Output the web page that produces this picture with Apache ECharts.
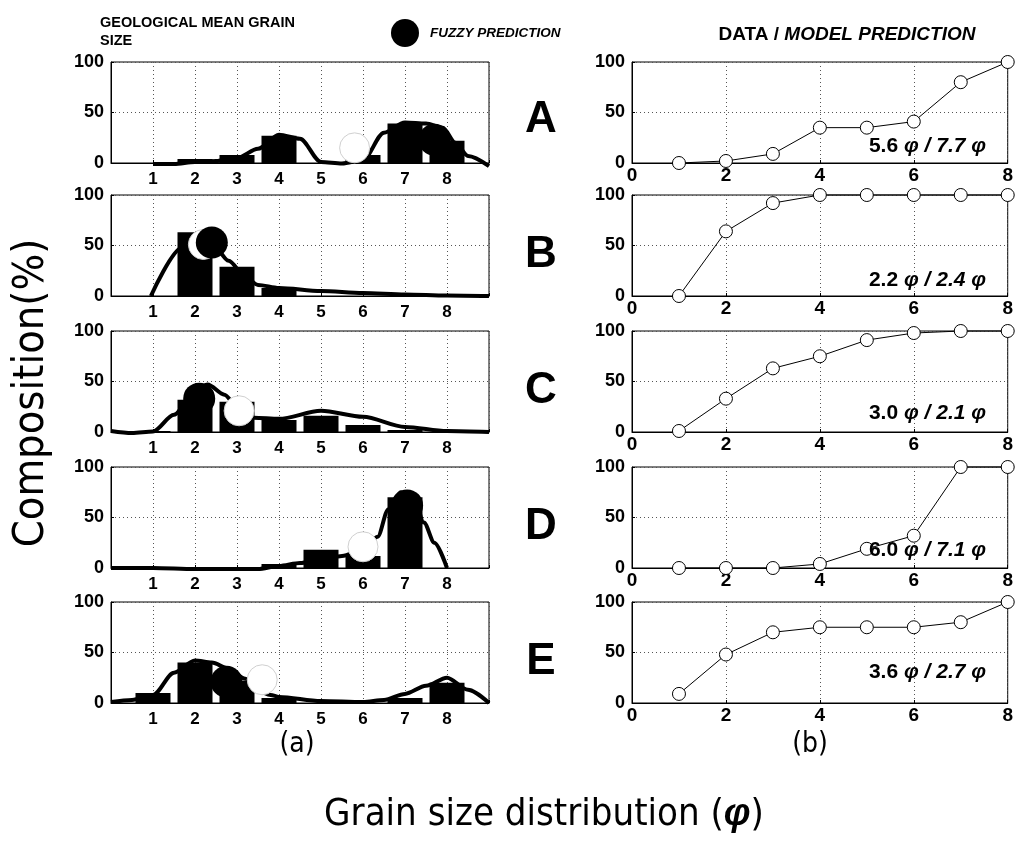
<!DOCTYPE html>
<html>
<head>
<meta charset="utf-8">
<script src="https://cdn.jsdelivr.net/npm/echarts@6/dist/echarts.min.js"></script>
<style>
html,body{margin:0;padding:0;background:#fff;}
#chart{width:1016px;height:841px;}
</style>
</head>
<body>
<div id="chart"></div>
<script>
// ---------------- DATA ----------------
const panelNames = ['A', 'B', 'C', 'D', 'E'];
const grainClasses = [1, 2, 3, 4, 5, 6, 7, 8];
const leftTickLabels = ['1', '2', '3', '4', '5', '6', '7', '8'];
const rightTickLabels = ['0', '2', '4', '6', '8'];

// (a) grain-size frequency bars (%)
const barsA = [0, 4, 8, 27, 0, 8, 39, 22];
const barsB = [0, 63, 29, 8, 0, 0, 0, 0];
const barsC = [1, 32, 30, 12, 16, 7, 2, 0];
const barsD = [0, 0, 0, 4, 18, 12, 70, 0];
const barsE = [10, 40, 22, 5, 0, 0, 5, 20];

// (a) smoothed distribution curves [phi, %]
const curveA = [[1,-1],[1.5,-1],[2,1],[2.5,2],[3,5],[3.5,14],[4,28],[4.5,24],[5,1],[5.5,-0.5],[6,3],[6.5,30],[7,40],[7.5,39],[7.9,35],[8.2,20],[8.5,7],[9,-3]];
const curveB = [[0.95,0],[1.7,48],[2,60],[2.4,53],[2.8,35],[3.2,19],[3.5,11],[4,8],[5,5],[6,3],[7,1.5],[8,0.5],[9,0]];
const curveC = [[0,1],[0.5,-1],[1,0.5],[1.5,17],[2,42],[2.3,47],[2.7,37],[3,25],[3.4,14],[4,13],[5,21],[6,15],[7,5],[8,1],[9,0]];
const curveD = [[0,0],[1,0],[2,-1],[3,-1],[3.5,-1],[4,2],[4.5,5],[5,8],[5.5,12],[6,18],[6.35,31],[6.6,58],[6.9,75],[7.2,72],[7.45,45],[7.7,25],[8,0]];
const curveE = [[0,1],[0.5,3],[1,8],[1.5,30],[2,42],[2.4,40],[2.8,34],[3.2,24],[3.5,12],[3.8,8],[4,6],[5,2],[6,1],[6.5,3],[7,9],[7.5,17],[8,25],[8.5,13],[9,0]];

// geological mean grain size (white) and fuzzy prediction (black) markers [phi, %]
const geoMean = [[5.8, 15], [2.2, 51], [3.05, 21], [6.0, 21], [3.6, 23]];
const fuzzyPred = [[7.7, 23], [2.4, 53], [2.1, 33], [7.05, 62], [2.75, 21]];

// (b) cumulative composition (%)
const cumA = [0, 2, 9, 35, 35, 41, 80, 100];
const cumB = [0, 64, 92, 100, 100, 100, 100, 100];
const cumC = [1, 33, 63, 75, 91, 98, 100, 100];
const cumD = [0, 0, 0, 4, 19, 32, 100, 100];
const cumE = [9, 48, 70, 75, 75, 75, 80, 100];

// annotation values: data / model prediction (phi)
const dataMean = ['5.6', '2.2', '3.0', '6.0', '3.6'];
const modelMean = ['7.7', '2.4', '2.1', '7.1', '2.7'];

// ---------------- BUILD ----------------
const bars = [barsA, barsB, barsC, barsD, barsE];
const curves = [curveA, curveB, curveC, curveD, curveE];
const cums = [cumA, cumB, cumC, cumD, cumE];

const tops = [62, 195, 331, 467, 602];
const annY = [146, 280, 413, 550, 672];
const letterY = [120, 255, 391, 527, 662];
const PH = 101;
const FF = '"Liberation Sans", Arial, sans-serif';
const TF = '"DejaVu Sans Condensed", "Open Sans", sans-serif';

const grids = [], xAxes = [], yAxes = [], series = [], graphics = [];
const dotted = {show: true, lineStyle: {color: '#555', type: [1, 3], width: 1}};

function yAx(gi) {
  return {
    gridIndex: gi, type: 'value', min: 0, max: 100, interval: 50,
    axisLine: {show: true, lineStyle: {color: '#000', width: 1}},
    axisTick: {show: true, inside: true, length: 3, lineStyle: {color: '#000'}},
    axisLabel: {color: '#000', fontFamily: FF, fontWeight: 'bold', fontSize: 18, margin: 7},
    splitLine: dotted
  };
}

for (let i = 0; i < 5; i++) {
  const gl = grids.length;
  grids.push({left: 111, top: tops[i], width: 378, height: PH, show: true, borderColor: '#000', borderWidth: 1});
  xAxes.push({
    gridIndex: gl, type: 'value', min: 0, max: 9, interval: 1,
    axisLine: {show: true, onZero: false, lineStyle: {color: '#000', width: 1}},
    axisTick: {show: true, inside: true, length: 3, lineStyle: {color: '#000'}},
    axisLabel: {color: '#000', fontFamily: FF, fontWeight: 'bold', fontSize: 17, margin: 8,
      formatter: v => (v >= 1 && v <= 8) ? leftTickLabels[v - 1] : ''},
    splitLine: dotted
  });
  yAxes.push(yAx(gl));
  series.push({
    type: 'bar', xAxisIndex: gl, yAxisIndex: gl, barWidth: 35, silent: true, z: 2,
    itemStyle: {color: '#000'},
    data: grainClasses.map((c, k) => [c, bars[i][k]])
  });
  series.push({
    type: 'line', xAxisIndex: gl, yAxisIndex: gl, smooth: 0.3, smoothMonotone: 'x',
    symbol: 'none', clip: false, silent: true, z: 3,
    lineStyle: {color: '#000', width: 4},
    data: curves[i]
  });
  series.push({
    type: 'scatter', name: 'GEOLOGICAL MEAN GRAIN SIZE', xAxisIndex: gl, yAxisIndex: gl,
    symbol: 'circle', symbolSize: 30, z: 4, silent: true,
    itemStyle: {color: '#fff', borderColor: '#d0d0d0', borderWidth: 1, opacity: 1},
    data: [geoMean[i]]
  });
  series.push({
    type: 'scatter', name: 'FUZZY PREDICTION', xAxisIndex: gl, yAxisIndex: gl,
    symbol: 'circle', symbolSize: 32, z: 5, silent: true,
    itemStyle: {color: '#000', opacity: 1},
    data: [fuzzyPred[i]]
  });

  const gr = grids.length;
  grids.push({left: 632, top: tops[i], width: 378, height: PH, show: true, borderColor: '#000', borderWidth: 1});
  xAxes.push({
    gridIndex: gr, type: 'value', min: 0, max: 8, interval: 2,
    axisLine: {show: true, onZero: false, lineStyle: {color: '#000', width: 1}},
    axisTick: {show: true, inside: true, length: 3, lineStyle: {color: '#000'}},
    axisLabel: {color: '#000', fontFamily: FF, fontWeight: 'bold', fontSize: 19, margin: 3,
      formatter: v => rightTickLabels[v / 2]},
    splitLine: dotted
  });
  yAxes.push(yAx(gr));
  series.push({
    type: 'line', xAxisIndex: gr, yAxisIndex: gr, clip: false, silent: true, z: 3,
    symbol: 'circle', symbolSize: 13,
    lineStyle: {color: '#000', width: 1},
    itemStyle: {color: '#fff', borderColor: '#000', borderWidth: 1},
    data: grainClasses.map((c, k) => [c, cums[i][k]])
  });

  graphics.push({type: 'text', x: 541, y: letterY[i], z: 10,
    style: {text: panelNames[i], font: 'bold 44px ' + FF, fill: '#000', align: 'center', verticalAlign: 'middle'}});
  graphics.push({type: 'text', x: 986, y: annY[i], z: 10,
    style: {text: dataMean[i] + ' {i|\u03C6 / ' + modelMean[i] + ' \u03C6}', font: 'bold 21px ' + FF, fill: '#000',
      align: 'right', verticalAlign: 'middle',
      rich: {i: {fontStyle: 'italic', fontWeight: 'bold', fontSize: 21, fontFamily: FF, fill: '#000'}}}});
}

graphics.push({type: 'text', x: 847, y: 35, z: 10,
  style: {text: 'DATA / {i|MODEL PREDICTION}', font: 'bold 19px ' + FF, fill: '#000', align: 'center', verticalAlign: 'middle',
    rich: {i: {fontStyle: 'italic', fontWeight: 'bold', fontSize: 19, fontFamily: FF, fill: '#000'}}}});
graphics.push({type: 'text', x: 32, y: 393, rotation: Math.PI / 2, z: 10,
  style: {text: 'Composition(%)', font: '43px ' + TF, fill: '#000', align: 'center', verticalAlign: 'middle'}});
graphics.push({type: 'text', x: 297, y: 745, z: 10,
  style: {text: '(a)', font: '28px ' + TF, fill: '#000', align: 'center', verticalAlign: 'middle'}});
graphics.push({type: 'text', x: 810, y: 745, z: 10,
  style: {text: '(b)', font: '28px ' + TF, fill: '#000', align: 'center', verticalAlign: 'middle'}});
graphics.push({type: 'text', x: 544, y: 815, z: 10,
  style: {text: 'Grain size distribution ({p|\u03C6})', font: '38px ' + TF, fill: '#000', align: 'center', verticalAlign: 'middle',
    rich: {p: {fontStyle: 'italic', fontWeight: 'bold', fontSize: 38, fontFamily: FF, fill: '#000'}}}});

const chart = echarts.init(document.getElementById('chart'), null, {renderer: 'canvas'});
chart.setOption({
  animation: false,
  backgroundColor: '#fff',
  grid: grids,
  xAxis: xAxes,
  yAxis: yAxes,
  legend: [
    {data: [{name: 'GEOLOGICAL MEAN GRAIN SIZE', itemStyle: {color: '#fff', borderWidth: 0}}],
     left: 62, top: 9, icon: 'circle', itemWidth: 28, itemHeight: 28, selectedMode: false,
     formatter: () => 'GEOLOGICAL MEAN GRAIN\nSIZE',
     textStyle: {color: '#000', fontFamily: FF, fontWeight: 'bold', fontSize: 14.5, lineHeight: 18}},
    {data: ['FUZZY PREDICTION'], left: 386, top: 14, icon: 'circle', itemWidth: 28, itemHeight: 28, selectedMode: false,
     textStyle: {color: '#000', fontFamily: FF, fontWeight: 'bold', fontStyle: 'italic', fontSize: 13.5, padding: [0, 0, 0, 6]}}
  ],
  series: series,
  graphic: graphics
});
</script>
</body>
</html>
